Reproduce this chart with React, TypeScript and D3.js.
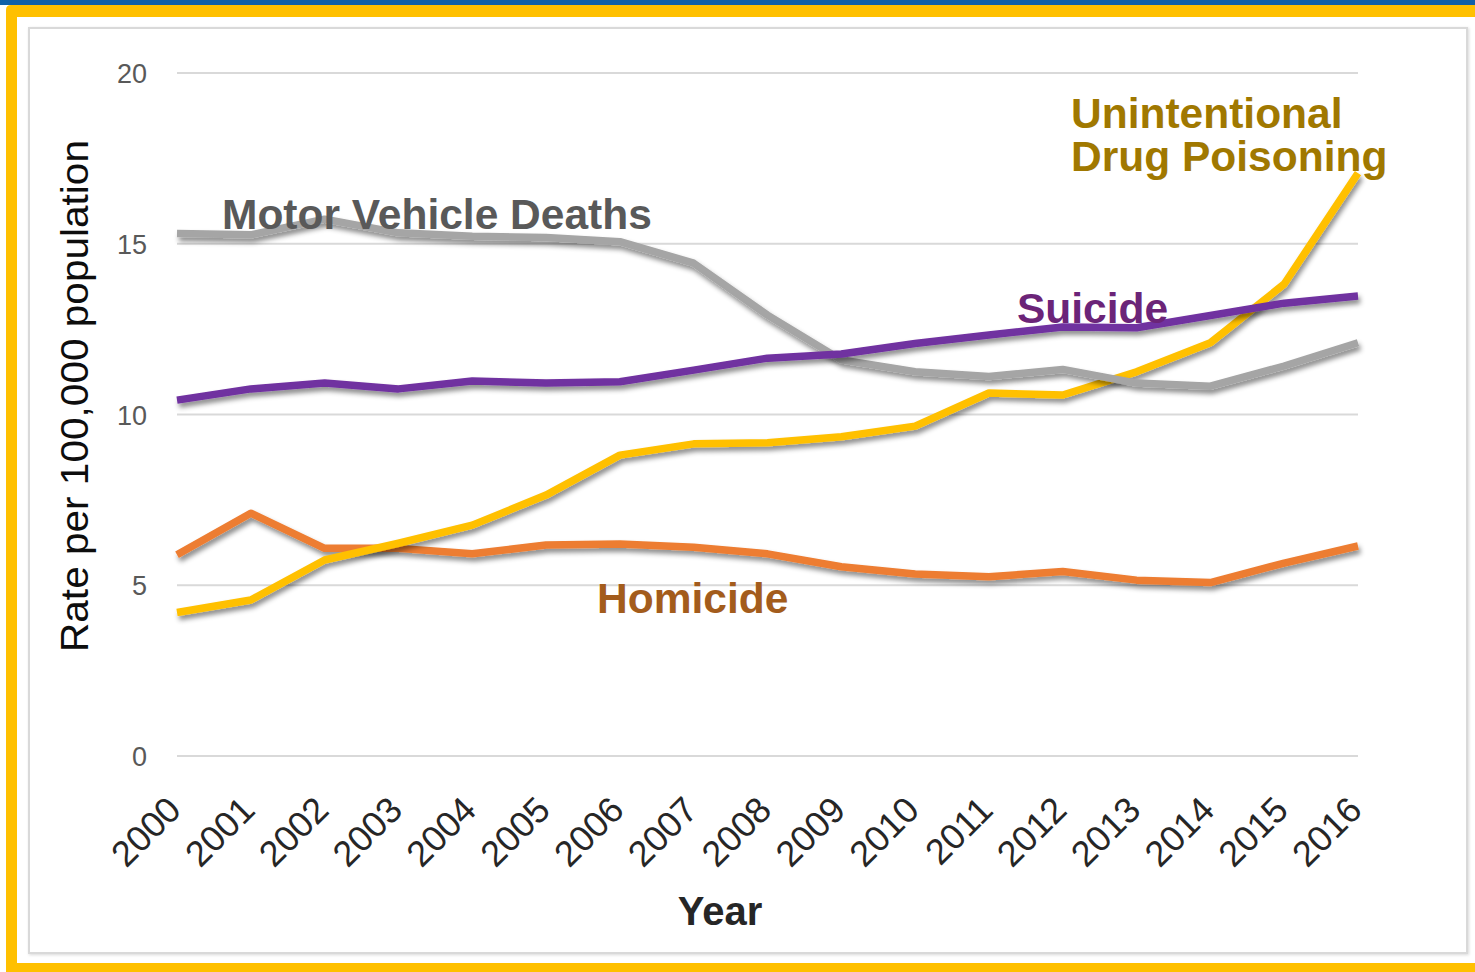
import React from "react";
import * as d3 from "d3";

const years = [2000, 2001, 2002, 2003, 2004, 2005, 2006, 2007, 2008, 2009, 2010, 2011, 2012, 2013, 2014, 2015, 2016];
const motorVehicle = [15.3, 15.26, 15.72, 15.32, 15.22, 15.18, 15.06, 14.43, 12.91, 11.6, 11.25, 11.11, 11.32, 10.92, 10.83, 11.42, 12.1];
const suicide = [10.42, 10.75, 10.92, 10.75, 10.98, 10.92, 10.96, 11.3, 11.65, 11.77, 12.08, 12.33, 12.56, 12.54, 12.9, 13.26, 13.47];
const drugPoisoning = [4.2, 4.57, 5.74, 6.23, 6.76, 7.64, 8.81, 9.14, 9.17, 9.35, 9.66, 10.63, 10.57, 11.25, 12.1, 13.82, 17.07];
const homicide = [5.89, 7.11, 6.08, 6.08, 5.92, 6.18, 6.21, 6.11, 5.92, 5.54, 5.33, 5.25, 5.4, 5.15, 5.08, 5.65, 6.15];
const yTicks = [0, 5, 10, 15, 20];

const series = [
  { name: "Homicide", values: homicide, color: "#ed7d31" },
  { name: "Drug", values: drugPoisoning, color: "#ffc000" },
  { name: "Motor", values: motorVehicle, color: "#a5a5a5" },
  { name: "Suicide", values: suicide, color: "#7030a0" },
];

export default function App() {
  const W = 1475, H = 972;
  const x = d3.scaleLinear().domain([2000, 2016]).range([177, 1358]);
  const y = d3.scaleLinear().domain([0, 20]).range([756, 73]);
  const line = d3.line<number>().x((_, i) => x(years[i])).y((d) => y(d));
  const font = "'Liberation Sans', Arial, sans-serif";

  return (
    <div style={{ position: "absolute", left: 0, top: 0 }}>
      <svg width={W} height={H} style={{ display: "block", background: "#fff" }}>
        <defs>
          <filter id="sh" x="-5%" y="-20%" width="110%" height="140%">
            <feDropShadow dx="2" dy="4" stdDeviation="2.5" floodColor="#000" floodOpacity="0.45" />
          </filter>
          <filter id="psh" x="-2%" y="-2%" width="104%" height="104%">
            <feDropShadow dx="1" dy="1" stdDeviation="1.5" floodColor="#000" floodOpacity="0.15" />
          </filter>
        </defs>
        {/* outer frame */}
        <rect x={0} y={0} width={W} height={5} fill="#1060a8" />
        <path d={`M6,${H} L6,10 Q6,5 11,5 L${W},5 L${W},17 L17,17 L17,963 L${W},963 L${W},${H} Z`} fill="#ffc000" />
        {/* inner panel */}
        <rect x={29} y={28} width={1438} height={925} fill="#fff" stroke="#d9d9d9" strokeWidth={2} filter="url(#psh)" />
        {/* gridlines */}
        {yTicks.map((t) => (
          <line key={t} x1={177} x2={1358} y1={y(t)} y2={y(t)} stroke="#d9d9d9" strokeWidth={2} />
        ))}
        {yTicks.map((t) => (
          <text key={"l" + t} x={147} y={y(t) + 10} textAnchor="end" fontFamily={font} fontSize={27} fill="#595959">
            {t}
          </text>
        ))}
        {/* x labels */}
        {years.map((yr) => (
          <text
            key={yr}
            transform={`translate(${x(yr) + 6},${812}) rotate(-45)`}
            textAnchor="end"
            fontFamily={font}
            fontSize={36}
            fill="#262626"
          >
            {yr}
          </text>
        ))}
        {/* lines */}
        {series.map((s) => (
          <path key={s.name} d={line(s.values) || ""} fill="none" stroke={s.color} strokeWidth={7.5} strokeLinejoin="round" filter="url(#sh)" />
        ))}
        {/* series labels */}
        <text x={222} y={229} fontFamily={font} fontWeight="bold" fontSize={42.5} fill="#595959">Motor Vehicle Deaths</text>
        <text x={1017} y={323} fontFamily={font} fontWeight="bold" fontSize={42.5} fill="#6b2478">Suicide</text>
        <text x={1071} y={128} fontFamily={font} fontWeight="bold" fontSize={42.5} fill="#a07800">Unintentional</text>
        <text x={1071} y={171} fontFamily={font} fontWeight="bold" fontSize={42.5} fill="#a07800">Drug Poisoning</text>
        <text x={597} y={613} fontFamily={font} fontWeight="bold" fontSize={42.5} fill="#a35c1c">Homicide</text>
        {/* axis titles */}
        <text x={720} y={925} textAnchor="middle" fontFamily={font} fontWeight="bold" fontSize={40} fill="#262626">Year</text>
        <text
          transform={`translate(88,396) rotate(-90)`}
          textAnchor="middle"
          fontFamily={font}
          fontSize={38}
          fill="#0d0d0d"
          textLength={512}
          lengthAdjust="spacingAndGlyphs"
        >
          Rate per 100,000 population
        </text>
      </svg>
    </div>
  );
}
